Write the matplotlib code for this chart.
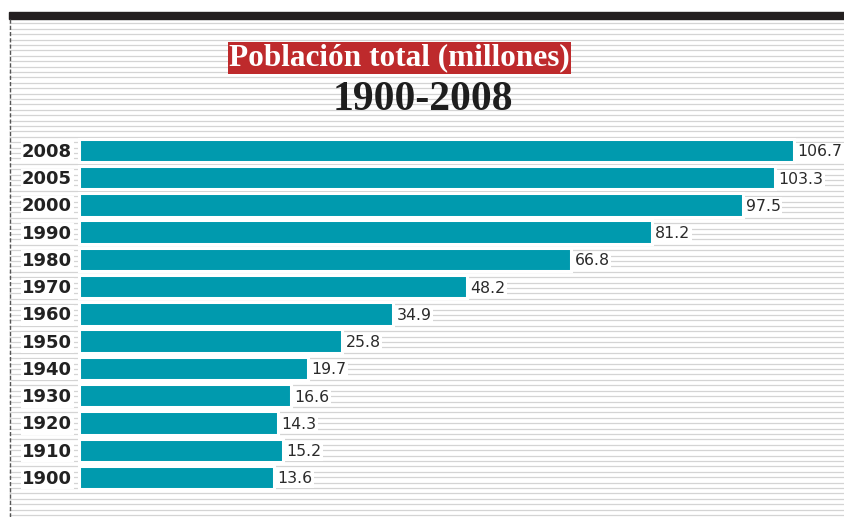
import numpy as np
import matplotlib.pyplot as plt
from matplotlib.patches import Rectangle

years = ['1900', '1910', '1920', '1930', '1940', '1950', '1960',
         '1970', '1980', '1990', '2000', '2005', '2008']
poblacion = [13.6, 15.2, 14.3, 16.6, 19.7, 25.8, 34.9,
             48.2, 66.8, 81.2, 97.5, 103.3, 106.7]

titulo = 'Población total (millones)'
subtitulo = '1900-2008'

bar_color = '#009aae'
base = -21.3  # bars start a bit left of zero, like the original

W, H = 844, 517
fig = plt.figure(figsize=(W / 100, H / 100), dpi=100)

# background: newspaper style stripes, black top rule, dashed left edge
bg = fig.add_axes([0, 0, 1, 1])
bg.set_xlim(0, W)
bg.set_ylim(H, 0)
bg.axis('off')
bg.hlines(np.arange(23.3, H, 5.403), 9, W, color='#d4d4d4', lw=0.9)
bg.add_patch(Rectangle((9, 12), W - 9, 7, color='#231f20'))
bg.vlines(9.5, 19, H, color='#555555', lw=1, linestyles=(0, (3, 1.5)))

# main chart
ax = fig.add_axes([0, 0, 1, 1])
ax.patch.set_visible(False)
ax.set_xlim(-35.45, 115.66)
ax.set_ylim(-1.45, 17.52)
ax.axis('off')

idx = np.arange(len(years))
vals = np.array(poblacion)
ax.barh(idx, vals - base, left=base, height=0.86, color=bar_color,
        edgecolor='white', linewidth=2.2, zorder=3)

for i, (yr, v) in enumerate(zip(years, poblacion)):
    ax.annotate(f'{v}', (v, i), xytext=(2.5, -1), textcoords='offset points',
                ha='left', va='center', fontsize=11.3, color='#2b2b2b',
                bbox=dict(facecolor='white', edgecolor='none', pad=1), zorder=4)
    ax.annotate(yr, (base, i), xytext=(-5, -1), textcoords='offset points',
                ha='right', va='center', fontsize=13, fontweight='bold',
                color='#222222',
                bbox=dict(facecolor='white', edgecolor='none', pad=1), zorder=4)

fig.text(399.5 / W, 1 - 58 / H, titulo, ha='center', va='center',
         family='Liberation Serif', fontweight='bold', fontsize=22.5, color='white',
         bbox=dict(facecolor='#be2a2c', edgecolor='none', pad=1))
fig.text(423 / W, 1 - 100 / H, subtitulo, ha='center', va='center',
         family='Liberation Serif', fontweight='bold', fontsize=30, color='#1e1e1e')

fig.savefig('out.png', dpi=100)
